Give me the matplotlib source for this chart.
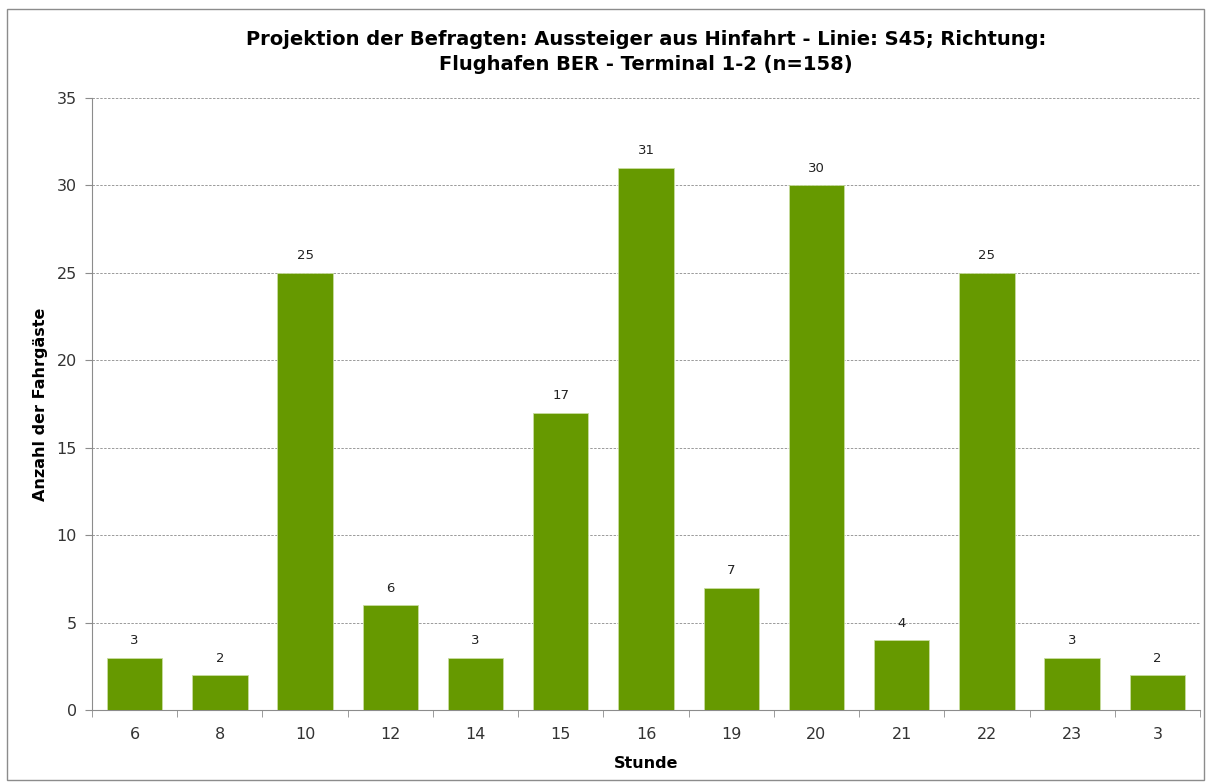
import matplotlib.pyplot as plt
from matplotlib.patches import Rectangle
import numpy as np

stunden = ["6", "8", "10", "12", "14", "15", "16", "19", "20", "21", "22", "23", "3"]
fahrgaeste = [3, 2, 25, 6, 3, 17, 31, 7, 30, 4, 25, 3, 2]
y_ticks = [0, 5, 10, 15, 20, 25, 30, 35]

fig = plt.figure(figsize=(12.08, 7.83), dpi=100)
fig.patches.append(Rectangle((7 / 1208, 3 / 783), 1197 / 1208, 771 / 783,
                             transform=fig.transFigure, fill=False,
                             edgecolor="#8c8c8c", lw=1))
ax = fig.add_axes([92 / 1208, 1 - 710 / 783, 1108 / 1208, 612 / 783])

x = np.arange(len(stunden))
bars = ax.bar(x, fahrgaeste, width=0.65, color="#669900", edgecolor="#c8dca0",
              lw=0.6, zorder=3)
for xi, v in zip(x, fahrgaeste):
    ax.text(xi, v + 0.6, str(v), ha="center", va="bottom", fontsize=9.5,
            color="#222222")

ax.set_xlim(-0.5, len(stunden) - 0.5)
ax.set_ylim(0, 35)
ax.set_yticks(y_ticks)
ax.set_yticklabels([str(t) for t in y_ticks], fontsize=11.5, color="#333333")
ax.set_xticks(x)
ax.set_xticklabels(stunden, fontsize=11.5, color="#333333")
ax.set_xticks(np.arange(len(stunden) + 1) - 0.5, minor=True)
ax.tick_params(axis="x", which="major", length=0, pad=12)
ax.tick_params(axis="x", which="minor", length=5, color="#8c8c8c")
ax.tick_params(axis="y", length=5, color="#8c8c8c", pad=6)

ax.yaxis.grid(True, ls=(0, (2.5, 1.5)), color="#9a9a9a", lw=0.7, zorder=0)
for s in ["top", "right"]:
    ax.spines[s].set_visible(False)
for s in ["left", "bottom"]:
    ax.spines[s].set_color("#8c8c8c")

ax.set_xlabel("Stunde", fontsize=11.5, fontweight="bold", labelpad=10)
ax.set_ylabel("Anzahl der Fahrgäste", fontsize=11.5, fontweight="bold", labelpad=6)
fig.suptitle("Projektion der Befragten: Aussteiger aus Hinfahrt - Linie: S45; Richtung:\n"
             "Flughafen BER - Terminal 1-2 (n=158)",
             x=0.535, y=0.962, va="top", fontsize=14, fontweight="bold",
             linespacing=1.4)

fig.savefig("out.png", dpi=100)
